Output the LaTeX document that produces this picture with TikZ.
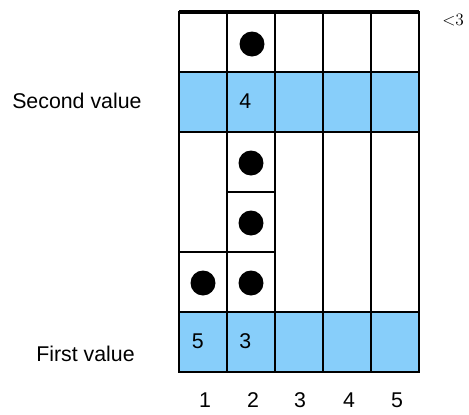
\documentclass[tikz,border=0pt]{standalone}
\usepackage{fontspec}
\newfontfamily\arial{Liberation Sans}
\definecolor{skyb}{RGB}{135,206,250}
\begin{document}
\begin{tikzpicture}[x=0.75pt,y=-0.75pt,
  cellbox/.style={draw=black, line width=1.1pt, inner sep=0pt, outer sep=0pt,
    minimum width=36pt, minimum height=45pt, fill=white},
  bluebox/.style={cellbox, fill=skyb},
  dotmark/.style={circle, fill=black, inner sep=0pt, minimum size=18.75pt},
  lbl/.style={font=\arial\fontsize{16}{19}\selectfont, inner sep=0pt, text=black}]
\useasboundingbox (0,0) rectangle (469,415);
% top row
\foreach \i/\x in {1/203,2/251,3/299,4/347,5/395}{
  \node[cellbox] (a\i) at (\x,42) {};
  \node[bluebox] (b\i) at (\x,102) {};
  \node[bluebox] (f\i) at (\x,342) {};
}
% middle area
\node[cellbox, minimum height=90pt] (c1) at (203,192) {};
\node[cellbox] (e1) at (203,282) {};
\node[cellbox] (c2) at (251,162) {};
\node[cellbox] (d2) at (251,222) {};
\node[cellbox] (e2) at (251,282) {};
\foreach \i/\x in {3/299,4/347,5/395}{
  \node[cellbox, minimum height=135pt] (t\i) at (\x,222) {};
}
% thick top line
\draw[line width=3pt] (a1.north west) -- (a5.north east);
% dots
\node[dotmark] (p1) at (252,44) {};
\node[dotmark] (p2) at (251,163) {};
\node[dotmark] (p3) at (251,223) {};
\node[dotmark] (p4) at (251,283) {};
\node[dotmark] (p5) at (203,283) {};
% values
\node[lbl, anchor=base west] (v4) at (239,108) {4};
\node[lbl, anchor=base west] (v5) at (191.5,348) {5};
\node[lbl, anchor=base west] (v3) at (239,348) {3};
% side labels
\node[lbl, anchor=base west] (sv) at (12,108) {Second value};
\node[lbl, anchor=base west] (fv) at (36,361) {First value};
% column numbers
\foreach \i/\x in {1/205,2/253,3/300,4/349,5/397}{
  \node[lbl, anchor=base] (n\i) at (\x,407) {\i};
}
\node[anchor=base west, inner sep=0pt, font=\fontsize{13}{15}\selectfont] (lt) at (442,25) {<3};
\end{tikzpicture}
\end{document}
